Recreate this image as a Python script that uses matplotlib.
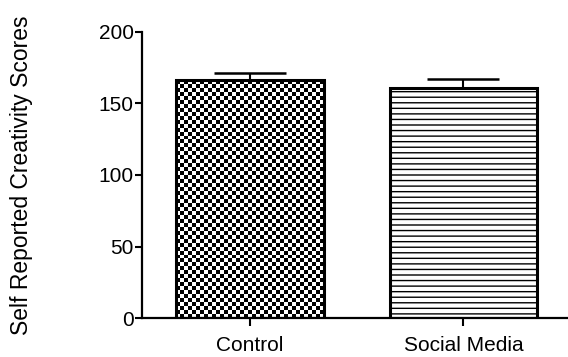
import matplotlib
matplotlib.use("Agg")
import matplotlib.pyplot as plt
import numpy as np

groups = ["Control", "Social Media"]
means = [166.4, 160.8]
sems = [5.1, 6.3]
y_ticks = [0, 50, 100, 150, 200]

plt.rcParams["font.family"] = ["Liberation Sans", "DejaVu Sans"]
plt.rcParams["hatch.linewidth"] = 1.0

fig = plt.figure(figsize=(5.68, 3.57), dpi=100)
ax = fig.add_axes([142 / 568, 39 / 357, 1 - 142 / 568, 286 / 357])

x = np.arange(len(groups))
bars = ax.bar(x, means, width=0.69, color="white", edgecolor="black",
              linewidth=2.2, zorder=2)
bars[0].set_facecolor("none")
bars[1].set_hatch("---")

# checkerboard fill for the control bar, clipped to the bar
b = bars[0]
bx, by = b.get_x(), b.get_y()
bw, bh = b.get_width(), b.get_height()
cols, rows = 37, 60
board = (np.add.outer(np.arange(rows), np.arange(cols)) % 2).astype(float)
img = ax.imshow(board, cmap="gray", interpolation="nearest", aspect="auto",
                extent=[bx, bx + bw, by, by + bh], zorder=1.5)
img.set_clip_path(b)

ax.errorbar(x, means, yerr=[np.zeros(len(sems)), sems], fmt="none",
            ecolor="black", elinewidth=1.5, capsize=26, capthick=1.8, zorder=3)

ax.set_xlim(-0.505, 1.49)
ax.set_ylim(0, 200)
ax.set_yticks(y_ticks)
ax.set_xticks(x)
ax.set_xticklabels(groups, fontsize=15)
ax.tick_params(axis="y", labelsize=15, length=5, width=1.5, direction="out", pad=1)
ax.tick_params(axis="x", length=6, width=1.5, direction="out", pad=7)
ax.spines["top"].set_visible(False)
ax.spines["right"].set_visible(False)
ax.spines["left"].set_linewidth(1.6)
ax.spines["bottom"].set_linewidth(1.6)
ax.set_ylabel("Self Reported Creativity Scores", fontsize=16.5)
ax.yaxis.set_label_coords(-0.255, 0.5)

fig.savefig("out.png", dpi=100)
